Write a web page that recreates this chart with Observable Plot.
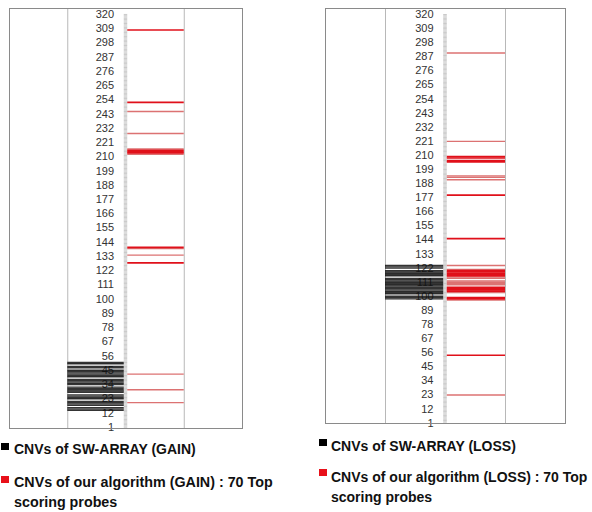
<!DOCTYPE html>
<html><head><meta charset="utf-8">
<script src="https://cdn.jsdelivr.net/npm/d3@7"></script>
<script src="https://cdn.jsdelivr.net/npm/@observablehq/plot@0.6"></script>
<style>
body{margin:0;background:#fff;}
#wrap{position:relative;width:592px;height:512px;overflow:hidden;font-family:"Liberation Sans",Arial,sans-serif;background:#fff;}
.panel{position:absolute;top:0;}
.leg{position:absolute;font-weight:bold;font-size:14px;line-height:20px;color:#111;white-space:nowrap;}
.sw{position:absolute;width:8px;height:7px;}
</style></head><body>
<div id="wrap">
  <div id="gain" class="panel" style="left:0px"></div>
  <div id="loss" class="panel" style="left:300px"></div>
  <div class="sw" style="left:1px;top:443px;background:#000"></div>
  <div class="leg" id="lg1" style="left:14px;top:439px"></div>
  <div class="sw" style="left:1px;top:476px;background:#e8101a"></div>
  <div class="leg" id="lg2" style="left:14px;top:472px;font-size:14.3px"></div>
  <div class="sw" style="left:319px;top:439px;background:#000"></div>
  <div class="leg" id="lg3" style="left:331px;top:436px"></div>
  <div class="sw" style="left:319px;top:469px;background:#e8101a"></div>
  <div class="leg" id="lg4" style="left:331px;top:467px"></div>
</div>
<script>
// probe index tick labels (every 11th probe)
const tickLabels = [1,12,23,34,45,56,67,78,89,100,111,122,133,144,155,166,177,188,199,210,221,232,243,254,265,276,287,298,309,320];
// minor tick marks: one per probe
const probeTicks = d3.range(1, 321);

// GAIN panel
const gainSwArray = [14,15,16,18,19,20,21,23,24,25,26,28,29,30,31,32,34,35,36,37,38,40,41,42,43,44,45,47,48,50,51];
const gainAlgoStrong = [308,252,213,214,215,128,140];
const gainAlgoLight = [245,228,212,216,139,134,42,30,20];

// LOSS panel
const lossSwArray = [98,99,100,102,103,104,105,106,107,108,109,110,111,112,113,114,116,117,118,119,120,122,123,124];
const lossAlgoStrong = [208,209,205,206,179,145,54,120,119,118,117,116,107,106,105,104,99,98];
const lossAlgoLight = [290,221,194,193,191,124,121,115,114,112,111,110,109,103,97,23];

const legendTexts = {
  lg1: "CNVs of SW-ARRAY (GAIN)",
  lg2: ["CNVs of our algorithm (GAIN) : 70 Top", "scoring probes"],
  lg3: "CNVs of SW-ARRAY (LOSS)",
  lg4: ["CNVs of our algorithm (LOSS) : 70 Top", "scoring probes"]
};

function drawPanel({sw, strong, light, width, marginLeft, marginRight, marginBottom, yDomain}) {
  return Plot.plot({
    width, height: 440, marginLeft, marginRight, marginTop: 8, marginBottom,
    x: {domain: [0, 4], axis: null},
    y: {domain: yDomain, axis: null},
    style: {background: "transparent", fontFamily: "Liberation Sans, Arial, sans-serif", overflow: "visible"},
    marks: [
      Plot.ruleX([1, 3], {stroke: "#b8b8b8", strokeWidth: 1}),
      Plot.ruleY(probeTicks, {x1: 1.97, x2: 2.03, stroke: "#a4a4a4", strokeWidth: 0.6}),
      Plot.text(tickLabels, {x: 2, y: d => d, dx: -12, textAnchor: "end", fontSize: 11, fill: "#333"}),
      Plot.ruleY(sw, {x1: 1, x2: 1.97, stroke: "#111", strokeWidth: 1.4, strokeOpacity: 0.85}),
      Plot.ruleY(light, {x1: 2.03, x2: 3, stroke: "#dc7272", strokeWidth: 1.4}),
      Plot.ruleY(strong, {x1: 2.03, x2: 3, stroke: "#e0101a", strokeWidth: 1.7}),
      Plot.frame({stroke: "#8a8a8a"})
    ]
  });
}

document.getElementById("gain").append(drawPanel({
  sw: gainSwArray, strong: gainAlgoStrong, light: gainAlgoLight,
  width: 250, marginLeft: 9, marginRight: 8, marginBottom: 12, yDomain: [0, 324.6]
}));
document.getElementById("loss").append(drawPanel({
  sw: lossSwArray, strong: lossAlgoStrong, light: lossAlgoLight,
  width: 280, marginLeft: 25, marginRight: 15, marginBottom: 17, yDomain: [0.7, 324.7]
}));

for (const [id, t] of Object.entries(legendTexts)) {
  const el = document.getElementById(id);
  if (Array.isArray(t)) { t.forEach((line, i) => { if (i) el.append(document.createElement("br")); el.append(line); }); }
  else el.textContent = t;
}
</script>
</body></html>
